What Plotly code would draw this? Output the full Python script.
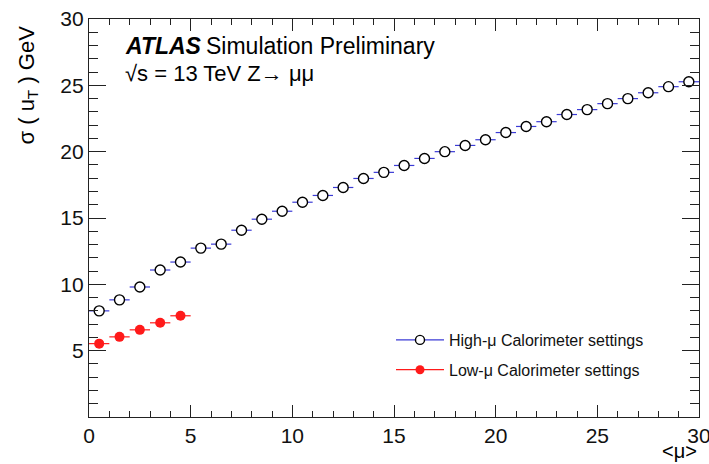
import plotly.graph_objects as go

# ---- data ----
mu_high = [0.5 + i for i in range(30)]
sigma_high = [8.0, 8.83, 9.8, 11.08, 11.68, 12.73, 13.03, 14.08, 14.91, 15.51,
              16.19, 16.7, 17.3, 17.98, 18.44, 18.96, 19.49, 20.0, 20.47, 20.9,
              21.44, 21.9, 22.26, 22.8, 23.17, 23.62, 24.0, 24.44, 24.9, 25.27]
mu_low = [0.5, 1.5, 2.5, 3.5, 4.5]
sigma_low = [5.53, 6.04, 6.57, 7.1, 7.63]
bin_half_width = 0.5

x_ticks = [0, 5, 10, 15, 20, 25, 30]
y_ticks = [0, 5, 10, 15, 20, 25, 30]
y_ticktext = ["", "5", "10", "15", "20", "25", "30"]

name_high = "High-μ Calorimeter settings"
name_low = "Low-μ Calorimeter settings"

BLUE = "#3b3bd6"
RED = "#ff1a1a"
FONT = "Liberation Sans, Arial, sans-serif"

fig = go.Figure()

# data traces
fig.add_trace(go.Scatter(
    x=mu_high, y=sigma_high, mode="markers", showlegend=False,
    error_x=dict(type="constant", value=bin_half_width, color=BLUE, thickness=1.2, width=0),
    marker=dict(symbol="circle", size=10, color="white", line=dict(color="black", width=1.4)),
))
fig.add_trace(go.Scatter(
    x=mu_low, y=sigma_low, mode="markers", showlegend=False,
    error_x=dict(type="constant", value=bin_half_width, color=RED, thickness=1.2, width=0),
    marker=dict(symbol="circle", size=10, color=RED, line=dict(width=0)),
))
# legend entries
fig.add_trace(go.Scatter(
    x=[None], y=[None], mode="lines+markers", name=name_high, legendgroup="a",
    line=dict(color=BLUE, width=1.2),
    marker=dict(symbol="circle", size=9, color="white", line=dict(color="black", width=1.4)),
))
fig.add_trace(go.Scatter(
    x=[None], y=[None], mode="lines+markers", name=name_low, legendgroup="b",
    line=dict(color=RED, width=1.2),
    marker=dict(symbol="circle", size=9, color=RED),
))

axis_common = dict(
    showline=True, linecolor="#222", linewidth=1.2, mirror="allticks",
    ticks="inside", tickcolor="#222", tickwidth=1.2,
    showgrid=False, zeroline=False, automargin=False, ticklabeloverflow="allow",
    tickfont=dict(family=FONT, size=21, color="#111"),
)

fig.update_xaxes(
    range=[0, 30], tickmode="array", tickvals=x_ticks, ticklen=12,
    minor=dict(tickmode="linear", tick0=0, dtick=1, ticklen=6, ticks="inside",
               tickcolor="#222", tickwidth=1.2, showgrid=False),
    **axis_common,
)
fig.update_yaxes(
    range=[0, 30], tickmode="array", tickvals=y_ticks, ticktext=y_ticktext, ticklen=17,
    minor=dict(tickmode="linear", tick0=0, dtick=1, ticklen=9, ticks="inside",
               tickcolor="#222", tickwidth=1.2, showgrid=False),
    **axis_common,
)

W, H = 709, 464
L, R, T, B = 89, 10, 19, 47
pw, ph = W - L - R, H - T - B

def px(xp):
    return (xp - L) / pw

def py(yp):
    return 1 - (yp - T) / ph

annotations = [
    dict(text="<b><i>ATLAS</i></b>", x=px(123), y=py(46), xanchor="left", yanchor="middle",
         font=dict(family=FONT, size=23, color="black")),
    dict(text="Simulation Preliminary", x=px(204), y=py(46), xanchor="left", yanchor="middle",
         font=dict(family=FONT, size=23, color="black")),
    dict(text="√s = 13 TeV Z→ μμ", x=px(123), y=py(73), xanchor="left", yanchor="middle",
         font=dict(family=FONT, size=22, color="black")),
    dict(text="σ ( u<sub>T</sub> ) GeV", x=px(27), y=py(24), xanchor="center", yanchor="top",
         textangle=-90, font=dict(family=FONT, size=22, color="black")),
    dict(text="&lt;μ&gt;", x=1, y=py(451), xanchor="right", yanchor="middle",
         font=dict(family=FONT, size=20, color="black")),
]
for a in annotations:
    a.update(xref="paper", yref="paper", showarrow=False)

fig.update_layout(
    width=W, height=H,
    margin=dict(l=L, r=R, t=T, b=B, autoexpand=False),
    paper_bgcolor="white", plot_bgcolor="white",
    font=dict(family=FONT, color="black"),
    annotations=annotations,
    legend=dict(x=px(391), y=py(323), xanchor="left", yanchor="top",
                bgcolor="rgba(0,0,0,0)", borderwidth=0, itemwidth=48,
                font=dict(family=FONT, size=16, color="#111"),
                traceorder="grouped", tracegroupgap=6),
)

fig.write_html("out.html", config={"displayModeBar": False},
               post_script="document.body.style.margin='0';document.body.style.overflow='hidden';")
